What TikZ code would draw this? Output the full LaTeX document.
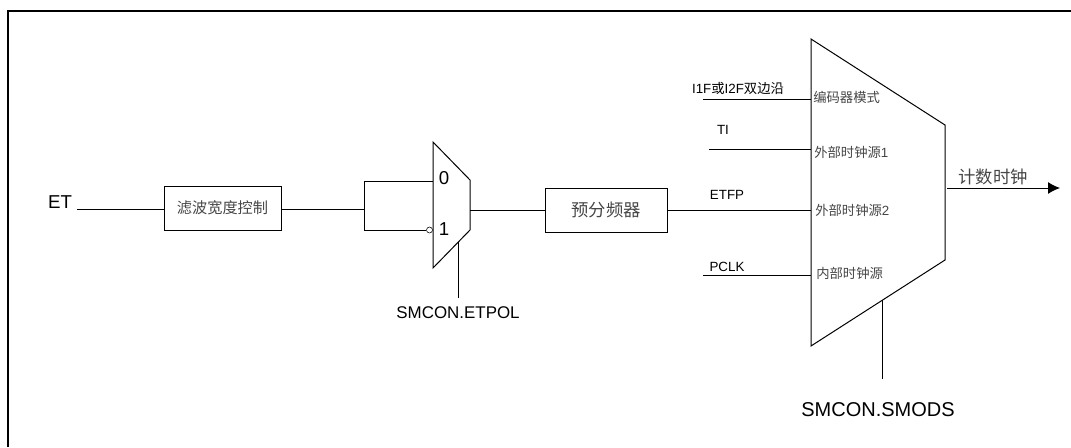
\documentclass[tikz,border=0pt]{standalone}
\usepackage{fontspec}
\setmainfont{Liberation Sans}
\newfontfamily\cjk{Noto Sans CJK SC}
\usetikzlibrary{
    arrows.meta,
    positioning
}
\definecolor{LabelGray}{RGB}{70,70,70}
\tikzset{
    blockbox/.style={draw, line width=0.75pt, inner sep=0pt, font=\cjk\fontsize{11.4}{13}\selectfont, text=LabelGray},
    inlabel/.style={inner sep=0pt, anchor=west, font=\cjk\fontsize{10}{12}\selectfont, text=LabelGray},
    siglabel/.style={inner sep=0pt, font=\fontsize{10}{12}\selectfont},
    ctrllabel/.style={inner sep=0pt, font=\fontsize{12.7}{16}\selectfont},
    wire/.style={draw, line width=0.75pt}
}

\begin{document}
\begin{tikzpicture}[
    >={Latex[length=9pt,width=9pt]},
    x=0.75pt,
    y=-0.75pt
]
\useasboundingbox (0,0) rectangle (1071,447);

% Frame
\draw[line width=1.5pt]
    (7.5,447) -- (7.5,10.5) -- (1071,10.5);

% Left part
\node[ctrllabel, font=\fontsize{14}{16}\selectfont] (et) at (60,202) {ET};
\coordinate (etend) at (77,209);
\node[blockbox, minimum width=117*0.75pt, minimum height=44*0.75pt] (filter) at (222.5,208)
    {滤波宽度控制};
\coordinate (split) at (364,209);
\coordinate (splittop) at (364,181);
\coordinate (splitbot) at (364,230);

% Small mux
\coordinate (ma) at (433,142);
\coordinate (mb) at (470,180);
\coordinate (mc) at (470,230);
\coordinate (md) at (433,268);
\draw[wire] (ma) -- (mb) -- (mc) -- (md) -- cycle;
\coordinate (mtop) at (433,181);
\node[circle, draw, inner sep=0pt, minimum size=4.5pt] (inv) at (429.5,230) {};
\node[ctrllabel, font=\fontsize{14}{16}\selectfont] (zero) at (444,178) {0};
\node[ctrllabel, font=\fontsize{14}{16}\selectfont] (one) at (444,229) {1};
\coordinate (mout) at (470,210);
\coordinate (mctrl) at (458,242);
\coordinate (mctrlend) at (458,298);
\node[ctrllabel] (etpol) at (458,313) {SMCON.ETPOL};

\draw[wire] (etend) -- (filter.west |- etend);
\draw[wire] (filter.east |- split) -- (split);
\draw[wire] (mtop) -- (splittop) -- (splitbot) -- (inv.west);
\draw[wire] (mctrl) -- (mctrlend);

% Prescaler
\node[blockbox, minimum width=122*0.75pt, minimum height=44*0.75pt, font=\cjk\fontsize{13}{15}\selectfont] (presc) at (606,210)
    {预分频器};
\draw[wire] (mout) -- (presc.west |- mout);

% Big mux
\coordinate (ba) at (811,39);
\coordinate (bb) at (945,125);
\coordinate (bc) at (945,260);
\coordinate (bd) at (811,346);
\draw[wire] (ba) -- (bb) -- (bc) -- (bd) -- cycle;

\node[inlabel] (enc) at (813,97) {编码器模式};
\node[inlabel] (ext1) at (814,152) {外部时钟源{\fontspec{Liberation Sans}1}};
\node[inlabel] (ext2) at (815,210) {外部时钟源{\fontspec{Liberation Sans}2}};
\node[inlabel] (intl) at (816,273) {内部时钟源};

% Inputs
\coordinate (i1start) at (703,99);
\coordinate (i1end) at (811,99);
\coordinate (tistart) at (709,149);
\coordinate (tiend) at (811,149);
\coordinate (etfpend) at (811,210);
\coordinate (pclkstart) at (703,275);
\coordinate (pclkend) at (811,275);
\draw[wire] (i1start) -- (i1end);
\draw[wire] (tistart) -- (tiend);
\draw[wire] (presc.east |- etfpend) -- (etfpend);
\draw[wire] (pclkstart) -- (pclkend);

\node[siglabel] (i1f) at (738,88) {I1F{\cjk 或}I2F{\cjk 双边沿}};
\node[siglabel] (ti) at (723,130) {TI};
\node[siglabel] (etfp) at (727,195) {ETFP};
\node[siglabel] (pclk) at (727,267) {PCLK};

% Output
\coordinate (outstart) at (947,188);
\coordinate (outend) at (1060,188);
\draw[wire, ->] (outstart) -- (outend);
\node[inner sep=0pt, font=\cjk\fontsize{13}{15}\selectfont, text=LabelGray] (count) at (993,177) {计数时钟};

% Select
\coordinate (bctrl) at (882,300);
\coordinate (bctrlend) at (882,379);
\draw[wire] (bctrl) -- (bctrlend);
\node[ctrllabel, font=\fontsize{15}{18}\selectfont] (smods) at (878,410) {SMCON.SMODS};

\end{tikzpicture}
\end{document}
